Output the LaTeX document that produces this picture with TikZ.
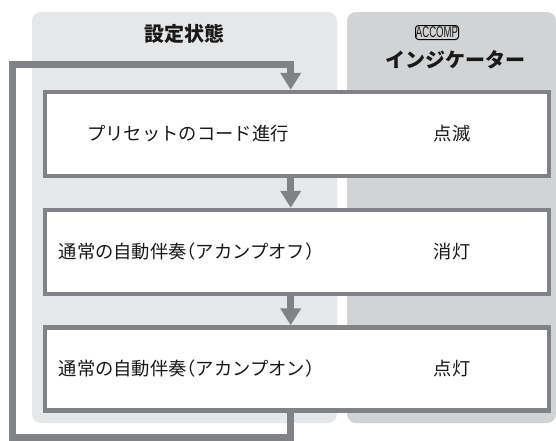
\documentclass[tikz,border=0pt]{standalone}
\usepackage{fontspec}
\setmainfont{Noto Sans CJK JP}
\newfontfamily\latinsf{Liberation Sans}
\usetikzlibrary{arrows.meta}
\definecolor{panelL}{RGB}{230,231,232}
\definecolor{panelR}{RGB}{209,211,212}
\definecolor{linegray}{RGB}{128,130,133}
\newcommand\jlp{\makebox[0.5em][r]{（}}
\newcommand\jrp{\makebox[0.5em][l]{）}}
\begin{document}
\begin{tikzpicture}[x=1pt,y=-1pt,
  stepbox/.style={draw=linegray, line width=4.5pt, fill=white, minimum width=504pt, inner sep=0pt},
  flow/.style={draw=linegray, line width=6.5pt, line join=miter, -{Triangle[width=20pt,length=17pt]}},
  txt/.style={font=\fontsize{18.3}{20}\selectfont, inner sep=0pt, text=black!90},
  head/.style={font=\fontsize{20}{24}\selectfont\bfseries, inner sep=0pt, text=black!90}]
\useasboundingbox (0,0) rectangle (556,440);
% panels
\fill[panelL, rounded corners=9pt] (32,12) rectangle (337,423);
\fill[panelR, rounded corners=9pt] (347,12) rectangle (556,423);
% headers
\node[head] (h1) at (184.5,34) {設定状態};
\node[draw, line width=1pt, rounded corners=3pt, minimum width=43pt, minimum height=14pt, inner sep=0pt, text=black!90] (acc) at (437,32.5)
  {\latinsf\fontsize{15.5}{15.5}\selectfont\scalebox{0.62}[1]{ACCOMP}};
\node[head] (h2) at (455,59.5) {インジケーター};
% boxes
\node[stepbox, minimum height=84pt] (b1) at (297,134) {};
\node[stepbox, minimum height=84pt] (b2) at (297,252) {};
\node[stepbox, minimum height=83pt] (b3) at (297,369) {};
% texts
\node[txt] (t1) at (188,134) {プリセットのコード進行};
\node[txt, anchor=west] (t2) at (58.5,252) {通常の自動伴奏\jlp アカンプオフ\jrp};
\node[txt, anchor=west] (t3) at (58.5,369) {通常の自動伴奏\jlp アカンプオン\jrp};
\node[txt] (s1) at (452,134) {点滅};
\node[txt] (s2) at (452,252) {消灯};
\node[txt] (s3) at (452,369) {点灯};
% connectors
\coordinate (ax) at (290.7,0);
\coordinate (lb) at (12.5,437.5);
\coordinate (lt) at (12.5,64.5);
\draw[flow] (b1.south -| ax) -- (b2.north -| ax);
\draw[flow] (b2.south -| ax) -- (b3.north -| ax);
\draw[flow] (b3.south -| ax) |- (lb) -- (lt) -| (b1.north -| ax);
\end{tikzpicture}
\end{document}
